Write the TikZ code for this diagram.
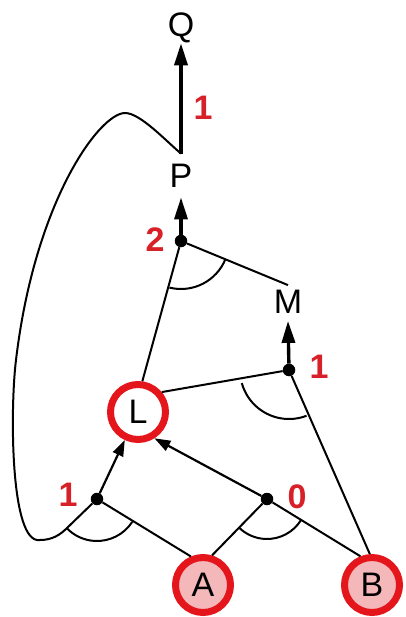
\documentclass[tikz,border=0pt]{standalone}
\usepackage{fontspec}
\setmainfont{Liberation Sans}
\usetikzlibrary{arrows.meta}
\definecolor{ringred}{RGB}{228,22,28}
\definecolor{labred}{RGB}{215,32,40}
\definecolor{pinkfill}{RGB}{244,184,186}
\begin{document}
\begin{tikzpicture}[x=1pt,y=-1pt,
  letter/.style={font=\fontsize{34}{34}\selectfont, inner sep=3pt},
  lab/.style={font=\bfseries\fontsize{34}{34}\selectfont, text=labred, inner sep=0pt},
  gate/.style={circle, fill=black, minimum size=12.5pt, inner sep=0pt},
  var/.style={circle, draw=ringred, line width=7pt, minimum size=55pt, inner sep=0pt, font=\fontsize{34}{34}\selectfont},
  edge/.style={line width=2pt},
  thinarr/.style={line width=2.2pt, -{Triangle[length=16pt,width=11pt]}},
  thickarr/.style={line width=3.4pt, -{Triangle[length=22pt,width=13pt]}},
  arcline/.style={line width=2pt}]
\useasboundingbox (0,0) rectangle (405,617);
% variables
\node[letter] (Q) at (181,28) {Q};
\node[letter] (P) at (181,176) {P};
\node[letter] (M) at (288,302) {M};
\node[var, fill=white] (L) at (138,412) {L};
\node[var, fill=pinkfill] (A) at (203,585) {A};
\node[var, fill=pinkfill] (B) at (372,585) {B};
% gates
\node[gate] (d2) at (181,241) {};
\node[gate] (dM) at (289,370) {};
\node[gate] (d1) at (97,499) {};
\node[gate] (d0) at (267,499) {};
% labels
\node[lab] (l1) at (203,108) {1};
\node[lab] (l2) at (155,240) {2};
\node[lab] (l3) at (319,367) {1};
\node[lab] (l4) at (68,495) {1};
\node[lab] (l5) at (297,497) {0};
% connectors
\draw[thickarr] ([yshift=7.5pt]P.north) -- ([yshift=3pt]Q.south);
\draw[thickarr] (d2) -- ([yshift=-6.5pt]P.south);
\draw[thickarr] (dM) -- ([yshift=-4pt]M.south);
\draw[edge] (d2) -- ([yshift=2pt]M.north);
\draw[edge] (d2) -- (L.82);
\draw[edge] (dM) -- (L.40);
\draw[edge] (dM) -- (B.94);
\draw[edge] (d1) -- (A.113);
\draw[edge] (d0) -- (A.73);
\draw[edge] (d0) -- (B.112);
\draw[thinarr] (d1) -- (L);
\draw[thinarr] (d0) -- (L.-58);
% feedback loop
\draw[edge] ([yshift=7.5pt]P.north) .. controls (165,140) and (140,113) .. (125,113)
  .. controls (100,113) and (35,200) .. (16,360)
  .. controls (10,408) and (10,545) .. (40,540)
  .. controls (52,540) and (60,535) .. (67,528) -- (d1);
% AND arcs
\draw[arcline] (d1) ++(33:42) arc[start angle=33, end angle=136, radius=42];
\draw[arcline] (d0) ++(32:40) arc[start angle=32, end angle=135, radius=40];
\draw[arcline] (d2) ++(22:48) arc[start angle=22, end angle=104, radius=48];
\draw[arcline] (dM) ++(69:49) arc[start angle=69, end angle=164.5, radius=49];
\end{tikzpicture}
\end{document}
